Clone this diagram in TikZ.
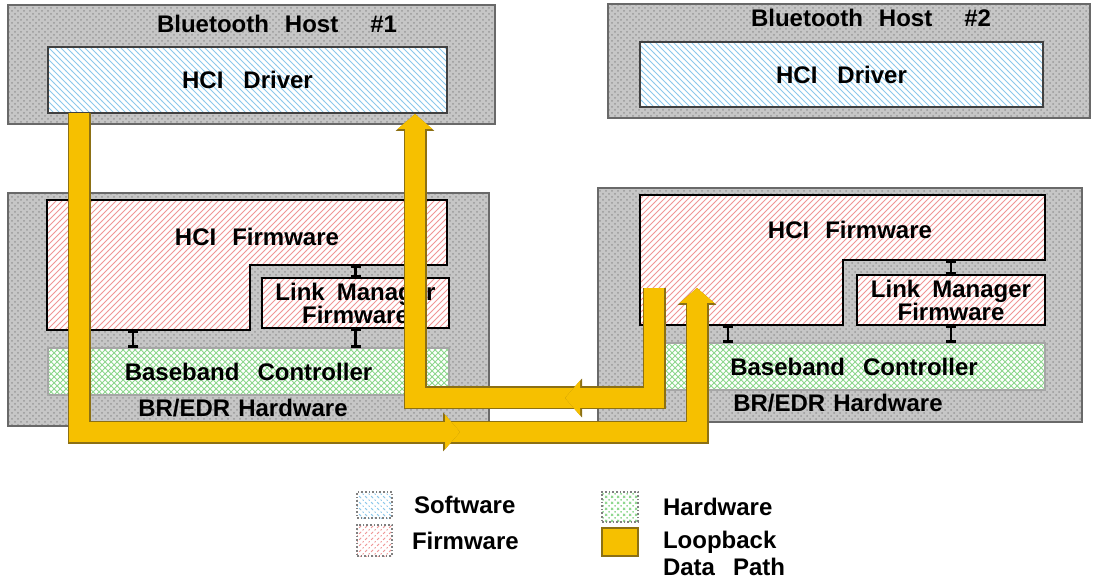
\documentclass[tikz,border=0pt]{standalone}
\usepackage{fontspec}
\setmainfont{Liberation Sans}
\usepackage{tikz}
\usetikzlibrary{arrows.meta,positioning,calc,patterns}

\definecolor{hostgray}{RGB}{198,198,198}
\definecolor{edgegray}{RGB}{105,105,105}
\definecolor{loopyellow}{RGB}{246,192,0}
\definecolor{loopedge}{RGB}{140,112,20}
\definecolor{softline}{RGB}{140,200,235}
\definecolor{firmline}{RGB}{240,150,150}
\definecolor{hardline}{RGB}{140,215,140}

\begin{document}
\begin{tikzpicture}[x=0.5pt,y=-0.5pt,
  every node/.style={font=\fontsize{12}{11.5}\selectfont\bfseries, inner sep=0pt, outer sep=0pt, align=center},
  outerbox/.style={preaction={fill=hostgray}, pattern=crosshatch dots, pattern color=gray!80, draw=edgegray, line width=1pt},
  softbox/.style={preaction={fill=white}, pattern=north west lines, pattern color=softline, draw=black!75, line width=1pt},
  firmbox/.style={preaction={fill=white}, pattern=north east lines, pattern color=firmline, draw=black, line width=1pt},
  hardbox/.style={preaction={fill=white}, pattern=crosshatch, pattern color=hardline, draw=gray!70, line width=0.6pt},
  keybox/.style={draw=gray, line width=0.8pt, densely dotted},
  ibeam/.style={{Bar[width=5pt]}-{Bar[width=5pt]}, line width=1.4pt},
  loop/.style={draw=loopyellow, line width=10pt, -{Triangle[width=17pt,length=7.5pt]},
    preaction={draw=loopedge, line width=11.5pt, -{Triangle[width=19pt,length=8.5pt]}}}]
  \useasboundingbox (0,0) rectangle (1097,587);

  % hosts
  \node[outerbox, minimum width=243.5pt, minimum height=59.5pt] (host1) at (251.5,64.5) {};
  \node (host1t) at (277,24) {Bluetooth\hspace{8pt}Host\hspace{16pt}\#1};
  \node[softbox, minimum width=199.5pt, minimum height=33pt] (drv1) at (247.5,80) {HCI\hspace{10pt}Driver};

  \node[outerbox, minimum width=241pt, minimum height=57pt] (host2) at (849,61) {};
  \node (host2t) at (871,18) {Bluetooth\hspace{8pt}Host\hspace{16pt}\#2};
  \node[softbox, minimum width=201.5pt, minimum height=32.5pt] (drv2) at (841.5,74.5) {HCI\hspace{10pt}Driver};

  % controller 1
  \node[outerbox, minimum width=240.5pt, minimum height=116.5pt] (ctrl1) at (248.5,309.5) {};
  \draw[firmbox] (47,200) -- (447,200) -- (447,265) -- (250,265) -- (250,330) -- (47,330) -- cycle;
  \coordinate (fw1notch) at (250,265);
  \coordinate (fw1foot) at (133,330);
  \node (fw1) at (257,237) {HCI\hspace{8pt}Firmware};
  \node[firmbox, minimum width=93.5pt, minimum height=25pt] (lm1) at (355.5,303) {Link\hspace{6pt}Manager\\Firmware};
  \node[hardbox, minimum width=200.5pt, minimum height=23.5pt] (bb1) at (248.5,371.5) {Baseband\hspace{9pt}Controller};
  \node (ctrl1t) at (243,408) {BR/EDR\hspace{4pt}Hardware};
  \draw[ibeam] (fw1notch -| lm1.north) -- (lm1.north);
  \draw[ibeam] (lm1.south) -- (lm1.south |- bb1.north);
  \draw[ibeam] (fw1foot) -- (fw1foot |- bb1.north);

  % controller 2
  \node[outerbox, minimum width=242pt, minimum height=117pt] (ctrl2) at (840,305) {};
  \draw[firmbox] (640,195) -- (1045,195) -- (1045,260) -- (843,260) -- (843,325) -- (640,325) -- cycle;
  \coordinate (fw2notch) at (843,260);
  \coordinate (fw2foot) at (728,325);
  \node (fw2) at (850,230) {HCI\hspace{8pt}Firmware};
  \node[firmbox, minimum width=94pt, minimum height=25pt] (lm2) at (951,300) {Link\hspace{6pt}Manager\\Firmware};
  \node[hardbox, minimum width=191pt, minimum height=23.5pt] (bb2) at (854,366.5) {Baseband\hspace{9pt}Controller};
  \node (ctrl2t) at (838,403) {BR/EDR\hspace{4pt}Hardware};
  \draw[ibeam] (fw2notch -| lm2.north) -- (lm2.north);
  \draw[ibeam] (lm2.south) -- (lm2.south |- bb2.north);
  \draw[ibeam] (fw2foot) -- (fw2foot |- bb2.north);

  % loopback path
  \coordinate (aout) at (79,113);
  \coordinate (amid) at (460,432);
  \coordinate (ain) at (697,288);
  \coordinate (bout) at (654,288);
  \coordinate (bmid) at (565,398);
  \coordinate (bin) at (415,114);
  \draw[loop] (aout) |- (amid) -| (ain);
  \draw[loop] (aout) |- (amid);
  \draw[loop] (bout) |- (bmid) -| (bin);
  \draw[loop] (bout) |- (bmid);

  % key
  \node[softbox, keybox, minimum width=17.5pt, minimum height=13pt] (keysw) at (374.5,505) {};
  \node[right=11pt of keysw] (keyswt) {Software};
  \node[firmbox, keybox, minimum width=17.5pt, minimum height=15.5pt] (keyfw) at (374.5,540.5) {};
  \node[right=10pt of keyfw] (keyfwt) {Firmware};
  \node[hardbox, keybox, minimum width=18pt, minimum height=15pt] (keyhw) at (620,507) {};
  \node[right=12.5pt of keyhw] (keyhwt) {Hardware};
  \node[draw=loopedge, line width=0.8pt, fill=loopyellow, minimum width=18pt, minimum height=14pt] (keylb) at (620,542) {};
  \node[anchor=west, align=left, font=\fontsize{12}{13.5}\selectfont\bfseries] (keylbt) at (663,553) {Loopback\\Data\hspace{9pt}Path};
\end{tikzpicture}
\end{document}
